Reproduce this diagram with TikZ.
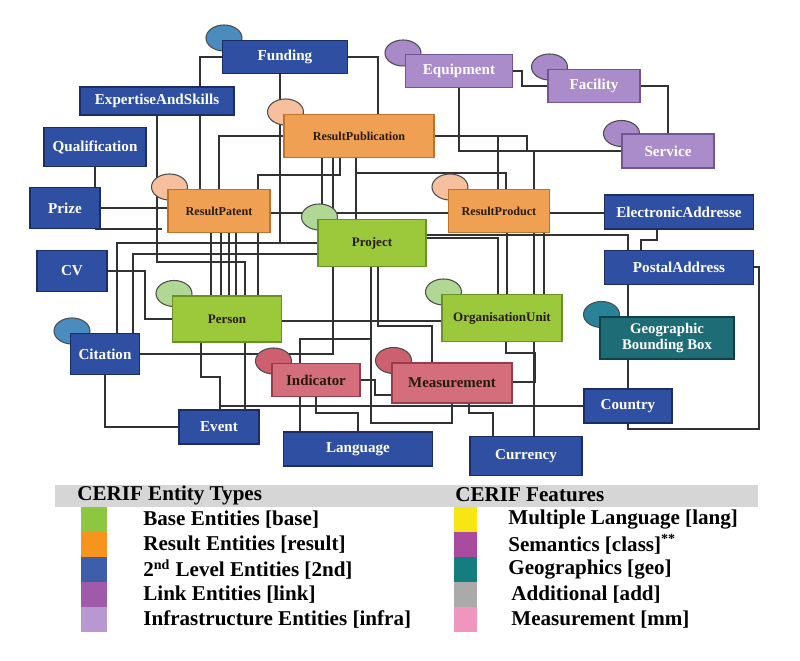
\documentclass[tikz,border=0pt]{standalone}
\usepackage{fontspec}
\setmainfont{Liberation Serif}
\usetikzlibrary{positioning,shapes.geometric}
\definecolor{CerifBlue}{RGB}{47,79,162}
\definecolor{CerifBlueLine}{RGB}{28,44,100}
\definecolor{CerifOrange}{RGB}{240,160,82}
\definecolor{CerifOrangeLine}{RGB}{190,115,45}
\definecolor{CerifGreen}{RGB}{156,200,60}
\definecolor{CerifGreenLine}{RGB}{105,145,40}
\definecolor{CerifLilac}{RGB}{170,140,202}
\definecolor{CerifLilacLine}{RGB}{115,85,150}
\definecolor{CerifPink}{RGB}{212,110,122}
\definecolor{CerifPinkLine}{RGB}{150,60,75}
\definecolor{CerifTeal}{RGB}{30,108,118}
\definecolor{CerifTealLine}{RGB}{15,65,72}
\definecolor{DarkLabel}{RGB}{40,26,12}
\definecolor{TabBlue}{RGB}{75,140,190}
\definecolor{TabPeach}{RGB}{246,192,158}
\definecolor{TabGreen}{RGB}{176,216,148}
\definecolor{TabLilac}{RGB}{168,138,200}
\definecolor{TabRed}{RGB}{204,96,110}
\definecolor{TabTeal}{RGB}{40,130,152}
\definecolor{LinkGrey}{RGB}{50,50,50}
\definecolor{BandGrey}{RGB}{214,214,214}
\definecolor{LgBase}{RGB}{141,198,63}
\definecolor{LgResult}{RGB}{247,148,29}
\definecolor{LgSecond}{RGB}{63,94,170}
\definecolor{LgLink}{RGB}{160,90,170}
\definecolor{LgInfra}{RGB}{183,152,208}
\definecolor{LgLang}{RGB}{245,230,20}
\definecolor{LgClass}{RGB}{170,75,160}
\definecolor{LgGeo}{RGB}{20,125,125}
\definecolor{LgAdd}{RGB}{170,170,170}
\definecolor{LgMm}{RGB}{240,150,190}
\pgfdeclarelayer{links}
\pgfdeclarelayer{tabs}
\pgfsetlayers{links,tabs,main}
\tikzset{
  cerifbox/.style={inner sep=0pt,align=center,line width=0.6pt},
  bluebox/.style={cerifbox,draw=CerifBlueLine,fill=CerifBlue,text=white,
    font=\fontsize{8.6}{9}\selectfont\bfseries},
  orangebox/.style={cerifbox,draw=CerifOrangeLine,fill=CerifOrange,text=DarkLabel,
    font=\fontsize{6.9}{8}\selectfont\bfseries},
  greenbox/.style={cerifbox,draw=CerifGreenLine,fill=CerifGreen,text=DarkLabel,
    font=\fontsize{7.4}{8}\selectfont\bfseries},
  lilacbox/.style={cerifbox,draw=CerifLilacLine,fill=CerifLilac,text=white,
    font=\fontsize{8.6}{9}\selectfont\bfseries},
  pinkbox/.style={cerifbox,draw=CerifPinkLine,fill=CerifPink,text=DarkLabel,
    font=\fontsize{8.5}{9}\selectfont\bfseries},
  tealbox/.style={cerifbox,draw=CerifTealLine,fill=CerifTeal,text=white,
    font=\fontsize{8.4}{9}\selectfont\bfseries},
  tabellipse/.style={ellipse,draw=black!70,line width=0.6pt,inner sep=0pt,
    minimum width=0.72cm,minimum height=0.52cm},
  conn/.style={draw=LinkGrey,line width=0.65pt},
  swatch/.style={inner sep=0pt,outer sep=0pt,minimum width=0.52cm,minimum height=0.5cm},
  legtxt/.style={inner sep=0pt,font=\fontsize{12}{14}\selectfont\bfseries}
}

\begin{document}
\begin{tikzpicture}[x=0.02cm,y=-0.02cm]
  \useasboundingbox (0,0) rectangle (800,660);

  % entities
  \node[bluebox,minimum width=2.5cm,minimum height=0.66cm] (fund) at (285,57) {Funding};
  \node[bluebox,minimum width=3.08cm,minimum height=0.56cm] (skills) at (157,101) {ExpertiseAndSkills};
  \node[bluebox,minimum width=2.04cm,minimum height=0.78cm] (qual) at (95,147) {Qualification};
  \node[bluebox,minimum width=1.4cm,minimum height=0.82cm] (prize) at (65,208) {Prize};
  \node[orangebox,minimum width=3cm,minimum height=0.86cm] (rpub) at (359,136) {ResultPublication};
  \node[orangebox,minimum width=2.04cm,minimum height=0.86cm] (rpat) at (219,211) {ResultPatent};
  \node[greenbox,minimum width=2.16cm,minimum height=0.94cm] (proj) at (372,243) {Project};
  \node[orangebox,minimum width=2.02cm,minimum height=0.86cm] (rprod) at (499,211) {ResultProduct};
  \node[lilacbox,minimum width=2.14cm,minimum height=0.66cm] (equip) at (459,71) {Equipment};
  \node[lilacbox,minimum width=1.84cm,minimum height=0.66cm] (facil) at (594,86) {Facility};
  \node[lilacbox,minimum width=1.84cm,minimum height=0.68cm] (serv) at (668,151) {Service};
  \node[bluebox,minimum width=2.98cm,minimum height=0.68cm] (eaddr) at (679,212) {ElectronicAddresse};
  \node[bluebox,minimum width=2.98cm,minimum height=0.68cm,below=0.4cm of eaddr] (paddr) {PostalAddress};
  \node[tealbox,minimum width=2.68cm,minimum height=0.84cm] (geobox) at (667,338) {Geographic\\Bounding Box};
  \node[bluebox,minimum width=1.76cm,minimum height=0.68cm] (country) at (628,406) {Country};
  \node[bluebox,minimum width=1.4cm,minimum height=0.82cm] (cv) at (72,271) {CV};
  \node[bluebox,minimum width=1.38cm,minimum height=0.82cm] (cit) at (105,354) {Citation};
  \node[greenbox,minimum width=2.18cm,minimum height=0.92cm] (pers) at (227,319) {Person};
  \node[greenbox,minimum width=2.4cm,minimum height=0.94cm] (orgunit) at (502,318) {OrganisationUnit};
  \node[pinkbox,minimum width=1.76cm,minimum height=0.66cm] (indic) at (316,380) {Indicator};
  \node[pinkbox,minimum width=2.4cm,minimum height=0.8cm] (meas) at (452,383) {Measurement};
  \node[bluebox,minimum width=1.6cm,minimum height=0.68cm] (event) at (219,427) {Event};
  \node[bluebox,minimum width=2.98cm,minimum height=0.68cm] (lang) at (358,449) {Language};
  \node[bluebox,minimum width=2.24cm,minimum height=0.78cm] (curr) at (526,456) {Currency};

  % feature tabs behind the corners
  \begin{pgfonlayer}{tabs}
    \node[tabellipse,fill=TabBlue] (fund-tab) at ([shift={(2,-2)}]fund.north west) {};
    \node[tabellipse,fill=TabBlue] (cit-tab) at ([shift={(2,-2)}]cit.north west) {};
    \node[tabellipse,fill=TabPeach] (rpub-tab) at ([shift={(2,-2)}]rpub.north west) {};
    \node[tabellipse,fill=TabPeach] (rpat-tab) at ([shift={(2,-2)}]rpat.north west) {};
    \node[tabellipse,fill=TabPeach] (rprod-tab) at ([shift={(2,-2)}]rprod.north west) {};
    \node[tabellipse,fill=TabGreen] (proj-tab) at ([shift={(2,-2)}]proj.north west) {};
    \node[tabellipse,fill=TabGreen] (pers-tab) at ([shift={(2,-2)}]pers.north west) {};
    \node[tabellipse,fill=TabGreen] (orgunit-tab) at ([shift={(2,-2)}]orgunit.north west) {};
    \node[tabellipse,fill=TabLilac] (equip-tab) at ([shift={(-2,-1)}]equip.north west) {};
    \node[tabellipse,fill=TabLilac] (facil-tab) at ([shift={(2,-2)}]facil.north west) {};
    \node[tabellipse,fill=TabLilac] (serv-tab) at ([shift={(0,0)}]serv.north west) {};
    \node[tabellipse,fill=TabRed] (indic-tab) at ([shift={(2,-2)}]indic.north west) {};
    \node[tabellipse,fill=TabRed] (meas-tab) at ([shift={(2,-2)}]meas.north west) {};
    \node[tabellipse,fill=TabTeal] (geobox-tab) at ([shift={(2,-2)}]geobox.north west) {};
  \end{pgfonlayer}

  % relations
  \begin{pgfonlayer}{links}
    \draw[conn] (fund.west) -| (200,0 |- rpat.north);
    \draw[conn] (fund.east) -| (378,0 |- rpub.north);
    \draw[conn] (280,0 |- fund.south) -- (280,243);
    \draw[conn] (117,0 |- cit.north) |- (proj.west |- 0,243);
    \draw[conn] (157,0 |- skills.south) |- (245,262) -- (245,0 |- pers.north);
    \draw[conn] (qual.south) -- (qual.south |- prize.north);
    \draw[conn] (prize.east) -- (prize.east -| rpat.west);
    \draw[conn] ([xshift=-3pt]prize.south east) -- ([xshift=-3pt]prize.south east -| rpat.west);
    \draw[conn] (rpub.west) -| (219,0 |- rpat.north);
    \draw[conn] (340,0 |- rpub.south) |- (258,175) -- (258,0 |- rpat.north);
    \draw[conn] (322,0 |- rpub.south) -- (322,0 |- proj.north);
    \draw[conn] (333,0 |- rpub.south) -- (333,0 |- proj.north);
    \draw[conn] (356,0 |- rpub.south) -- (356,0 |- proj.north);
    \draw[conn] (356,173) -| (506,0 |- rprod.north);
    \draw[conn] (rpub.east) -| (498,0 |- rprod.north);
    \draw[conn] (rpub.east) -| (527,0 |- serv.west) -- (serv.west);
    \draw[conn] (equip.south) |- (serv.west);
    \draw[conn] (equip.east) -- (522,0 |- equip.east) |- (facil.west);
    \draw[conn] (facil.east) -| (serv.north);
    \draw[conn] (534,0 |- serv.west) -- (534,0 |- curr.north);
    \draw[conn] (rpat.east |- 0,213) -- (rprod.west |- 0,213);
    \draw[conn] (rprod.east |- 0,213) -- (eaddr.west |- 0,213);
    \draw[conn] (657,0 |- eaddr.south) |- (641,240) -- (641,0 |- paddr.north);
    \draw[conn] (proj.east |- 0,235) -| (628,0 |- paddr.north);
    \draw[conn] (proj.east |- 0,238) -| (498,0 |- orgunit.north);
    \draw[conn] (507,0 |- rprod.south) -- (507,0 |- orgunit.north);
    \draw[conn] (544,0 |- rprod.south) -- (544,0 |- orgunit.north);
    \draw[conn] (628,0 |- paddr.south) -- (628,0 |- geobox.north);
    \draw[conn] (628,0 |- geobox.south) -- (country.north);
    \draw[conn] (paddr.east) -- (759,0 |- paddr.east) |- (country.south |- 0,429) -- (country.south);
    \draw[conn] (133,0 |- cit.north) |- (proj.west |- 0,254);
    \draw[conn] (cit.east) -| (333,0 |- proj.south);
    \draw[conn] (cit.south) |- (event.west);
    \draw[conn] (cv.east) -- (145,0 |- cv.east) |- (pers.west);
    \draw[conn] (211,0 |- rpat.south) -- (211,0 |- pers.north);
    \draw[conn] (221,0 |- rpat.south) -- (221,0 |- pers.north);
    \draw[conn] (229,0 |- rpat.south) -- (229,0 |- pers.north);
    \draw[conn] (236,0 |- rpat.south) -- (236,0 |- pers.north);
    \draw[conn] (258,0 |- rpat.south) -- (258,0 |- pers.north);
    \draw[conn] (pers.east |- 0,321) -- (orgunit.west |- 0,321);
    \draw[conn] (201,0 |- pers.south) |- (220,377) -- (220,0 |- event.north);
    \draw[conn] (245,0 |- pers.south) -- (245,0 |- event.north);
    \draw[conn] (country.west) -| (220,0 |- event.north);
    \draw[conn] (371,0 |- proj.south) |- (300,339) -- (300,0 |- indic.north);
    \draw[conn] (371,0 |- proj.south) |- (452,423) -- (452,0 |- meas.south);
    \draw[conn] (378,0 |- proj.south) |- (432,326) -- (432,0 |- meas.north);
    \draw[conn] (indic.east) -- (375,0 |- indic.east) |- (meas.west |- 0,395);
    \draw[conn] (300,0 |- indic.south) -- (300,0 |- lang.north);
    \draw[conn] (316,0 |- indic.south) |- (358,413) -- (358,0 |- lang.north);
    \draw[conn] (469,0 |- meas.south) |- (493,413) -- (493,0 |- curr.north);
    \draw[conn] (506,0 |- orgunit.south) |- (535,353) |- (meas.east |- 0,382);
  \end{pgfonlayer}

  % legend
  \node[fill=BandGrey,inner sep=0pt,minimum width=14.06cm,minimum height=0.44cm] (band) at (406.5,496) {};
  \node[legtxt,anchor=west] (types-hd) at (77,495) {CERIF Entity Types};
  \node[legtxt,anchor=west] (feat-hd) at (455,495) {CERIF Features};

  \node[swatch,fill=LgBase] (base) at (94,519.5) {};
  \node[swatch,fill=LgResult,below=0cm of base] (result) {};
  \node[swatch,fill=LgSecond,below=0cm of result] (second) {};
  \node[swatch,fill=LgLink,below=0cm of second] (linkent) {};
  \node[swatch,fill=LgInfra,below=0cm of linkent] (infra) {};
  \node[legtxt,right=0.72cm of base] (base-t) {Base Entities [base]};
  \node[legtxt,right=0.72cm of result] (result-t) {Result Entities [result]};
  \node[legtxt,right=0.72cm of second] (second-t) {2\textsuperscript{nd} Level Entities [2nd]};
  \node[legtxt,right=0.72cm of linkent] (linkent-t) {Link Entities [link]};
  \node[legtxt,right=0.72cm of infra] (infra-t) {Infrastructure Entities [infra]};

  \node[swatch,minimum width=0.46cm,fill=LgLang] (mlang) at (465.5,519.5) {};
  \node[swatch,minimum width=0.46cm,fill=LgClass,below=0cm of mlang] (sem) {};
  \node[swatch,minimum width=0.46cm,fill=LgGeo,below=0cm of sem] (geo) {};
  \node[swatch,minimum width=0.46cm,fill=LgAdd,below=0cm of geo] (addl) {};
  \node[swatch,minimum width=0.46cm,fill=LgMm,below=0cm of addl] (mm) {};
  \node[legtxt,right=0.62cm of mlang] (mlang-t) {Multiple Language [lang]};
  \node[legtxt,right=0.62cm of sem] (sem-t) {Semantics [class]\textsuperscript{**}};
  \node[legtxt,right=0.62cm of geo] (geo-t) {Geographics [geo]};
  \node[legtxt,right=0.68cm of addl] (addl-t) {Additional [add]};
  \node[legtxt,right=0.68cm of mm] (mm-t) {Measurement [mm]};
\end{tikzpicture}
\end{document}
